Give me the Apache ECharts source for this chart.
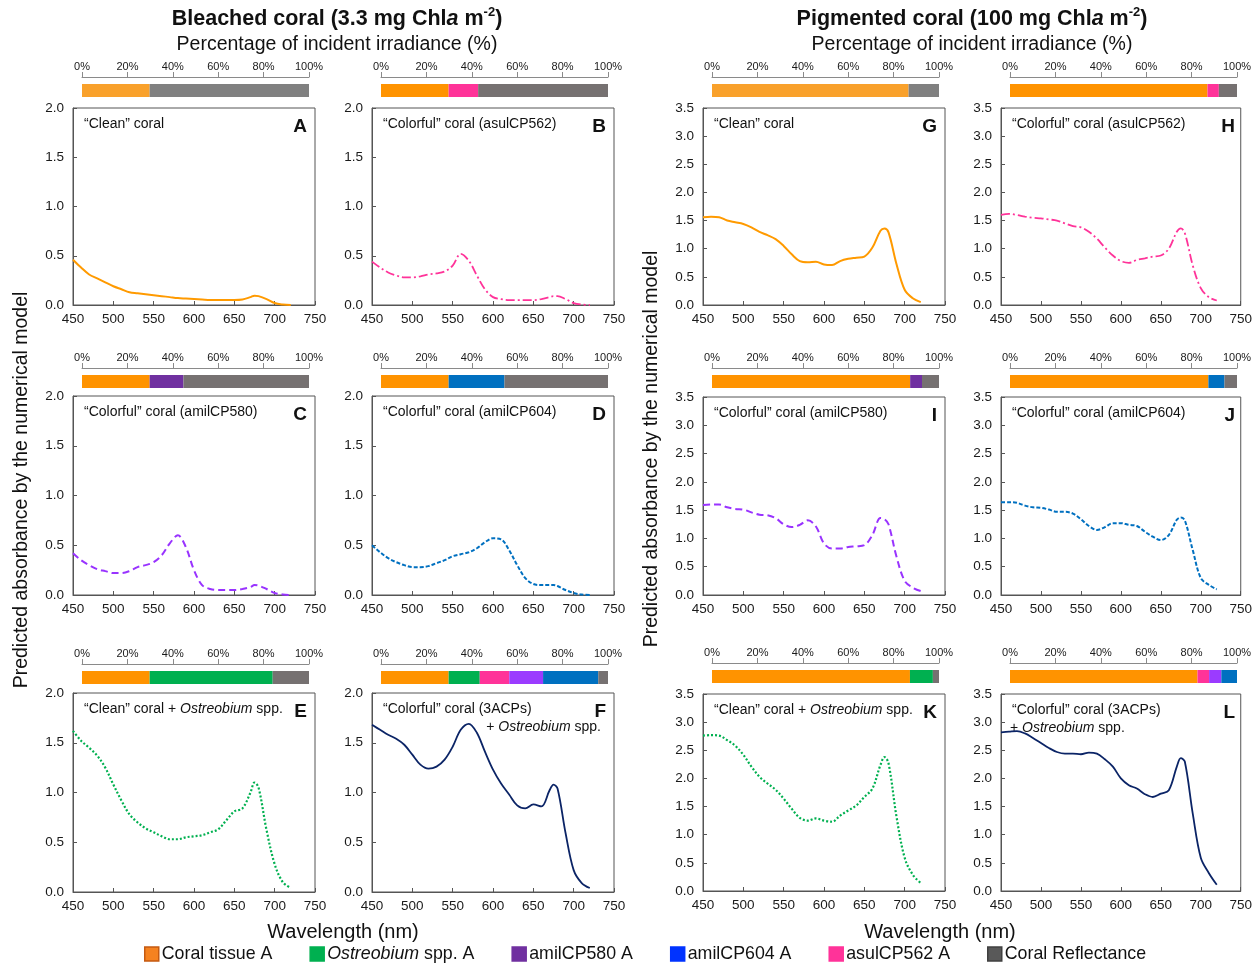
<!DOCTYPE html>
<html><head><meta charset="utf-8">
<script src="https://cdn.jsdelivr.net/npm/echarts@6/dist/echarts.min.js"></script>
<style>html,body{margin:0;padding:0;background:#fff}#c{width:1255px;height:966px}</style>
</head><body><div id="c"></div>
<script>
// ---------- DATA ----------
const wavelength = [450,460,470,480,490,500,510,520,530,540,550,560,570,580,590,600,610,620,630,640,650,660,670,675,680,690,700,710,720];
// Bleached coral (3.3 mg Chla m-2)
const absA = [0.46,0.38,0.31,0.27,0.23,0.19,0.16,0.13,0.12,0.11,0.10,0.09,0.08,0.07,0.065,0.06,0.055,0.05,0.05,0.05,0.05,0.055,0.08,0.095,0.09,0.06,0.02,0.005,0.0];
const absB = [0.44,0.38,0.33,0.30,0.28,0.28,0.29,0.31,0.32,0.34,0.40,0.52,0.45,0.30,0.16,0.08,0.06,0.05,0.05,0.05,0.05,0.06,0.08,0.09,0.09,0.06,0.02,0.005,0.0];
const absC = [0.42,0.35,0.30,0.26,0.24,0.22,0.22,0.24,0.28,0.30,0.33,0.40,0.52,0.60,0.48,0.25,0.10,0.06,0.05,0.05,0.05,0.06,0.08,0.10,0.095,0.06,0.02,0.005,0.0];
const absD = [0.50,0.43,0.37,0.33,0.30,0.28,0.28,0.29,0.32,0.35,0.39,0.41,0.43,0.47,0.53,0.57,0.56,0.45,0.30,0.17,0.11,0.10,0.10,0.10,0.09,0.05,0.02,0.005,0.0];
const absE = [1.62,1.52,1.45,1.37,1.25,1.08,0.92,0.78,0.70,0.64,0.60,0.56,0.53,0.53,0.55,0.56,0.57,0.60,0.63,0.72,0.81,0.84,1.00,1.10,1.05,0.62,0.28,0.10,0.04];
const absF = [1.68,1.63,1.58,1.54,1.48,1.38,1.28,1.24,1.26,1.33,1.46,1.63,1.69,1.60,1.41,1.23,1.09,0.98,0.87,0.84,0.88,0.86,1.02,1.08,1.04,0.59,0.22,0.09,0.04];
// Pigmented coral (100 mg Chla m-2)
const absG = [1.56,1.57,1.56,1.50,1.47,1.44,1.38,1.30,1.24,1.17,1.05,0.90,0.78,0.76,0.77,0.72,0.71,0.78,0.82,0.84,0.86,1.02,1.32,1.36,1.29,0.72,0.27,0.12,0.05];
const absH = [1.60,1.62,1.60,1.57,1.55,1.54,1.52,1.50,1.45,1.40,1.38,1.30,1.18,1.02,0.88,0.78,0.75,0.80,0.83,0.86,0.88,1.00,1.30,1.36,1.28,0.70,0.30,0.14,0.08];
const absI = [1.59,1.60,1.60,1.55,1.52,1.51,1.46,1.42,1.41,1.36,1.25,1.20,1.24,1.32,1.21,0.91,0.82,0.82,0.85,0.86,0.88,1.06,1.36,1.34,1.25,0.67,0.25,0.13,0.07];
const absJ = [1.64,1.64,1.63,1.58,1.55,1.54,1.51,1.47,1.47,1.44,1.34,1.22,1.15,1.20,1.27,1.27,1.24,1.22,1.12,1.03,0.97,1.06,1.33,1.37,1.32,0.79,0.30,0.18,0.10];
const absK = [2.76,2.77,2.76,2.68,2.58,2.42,2.21,2.03,1.91,1.80,1.64,1.46,1.30,1.25,1.29,1.25,1.23,1.34,1.43,1.52,1.67,1.82,2.24,2.38,2.27,1.31,0.59,0.29,0.14];
const absL = [2.82,2.83,2.84,2.80,2.72,2.63,2.54,2.47,2.44,2.44,2.43,2.46,2.44,2.34,2.21,2.00,1.88,1.82,1.72,1.67,1.73,1.79,2.21,2.36,2.30,1.37,0.59,0.32,0.11];

// Percentage of incident irradiance (%), stack order as drawn
const components = ['Coral tissue A','Ostreobium spp. A','asulCP562 A','amilCP580 A','amilCP604 A','Coral Reflectance'];
const legendOrder = ['Coral tissue A','Ostreobium spp. A','amilCP580 A','amilCP604 A','asulCP562 A','Coral Reflectance'];
const pctA = [29.8,0,0,0,0,70.2];
const pctB = [29.8,0,13.0,0,0,57.2];
const pctC = [29.8,0,0,14.9,0,55.3];
const pctD = [29.8,0,0,0,24.6,45.6];
const pctE = [29.8,54.2,0,0,0,16.0];
const pctF = [29.8,13.7,13.0,14.9,24.3,4.3];
const pctG = [86.6,0,0,0,0,13.4];
const pctH = [87.0,0,5.0,0,0,8.0];
const pctI = [87.3,0,0,5.2,0,7.5];
const pctJ = [87.4,0,0,0,7.1,5.5];
const pctK = [87.2,10.1,0,0,0,2.7];
const pctL = [82.6,0,5.1,5.4,6.9,0];

const panelLetters = ['A','B','C','D','E','F','G','H','I','J','K','L'];
const panelTexts = [
  '{n|“Clean” coral}',
  '{n|“Colorful” coral (asulCP562)}',
  '{n|“Colorful” coral (amilCP580)}',
  '{n|“Colorful” coral (amilCP604)}',
  '{n|“Clean” coral + }{i|Ostreobium}{n| spp.}',
  '{n|“Colorful” coral (3ACPs)}',
  '{n|“Clean” coral}',
  '{n|“Colorful” coral (asulCP562)}',
  '{n|“Colorful” coral (amilCP580)}',
  '{n|“Colorful” coral (amilCP604)}',
  '{n|“Clean” coral + }{i|Ostreobium}{n| spp.}',
  '{n|“Colorful” coral (3ACPs)}'
];
const secondLine = '{n|+ }{i|Ostreobium}{n| spp.}';
const absData = [absA,absB,absC,absD,absE,absF,absG,absH,absI,absJ,absK,absL];
const pctData = [pctA,pctB,pctC,pctD,pctE,pctF,pctG,pctH,pctI,pctJ,pctK,pctL];
const yMaxLeft = 2.0, yMaxRight = 3.5;

// ---------- LAYOUT / STYLE ----------
const FONT = '"Liberation Sans", Arial, Helvetica, sans-serif';
const colLeft = [73, 372, 703, 1001];
const plotW = 242;
const rowTop = [[108,396,693],[108,397,694]];
const rowH = [[197,199,199],[197,198,197]];
const barAxisY = [[77,368,664],[77,368,663]];
const panelPos = [[0,0],[1,0],[0,1],[1,1],[0,2],[1,2],[2,0],[3,0],[2,1],[3,1],[2,2],[3,2]];
const lineKinds = ['tissue','asul','amil580','amil604','ostreo','all','tissue','asul','amil580','amil604','ostreo','all'];
const lineStyles = {
  tissue:{color:'#FF9A00', width:2, type:'solid'},
  asul:{color:'#FF3399', width:1.8, type:[9,3,2,3]},
  amil580:{color:'#9933FF', width:2, type:[7,4]},
  amil604:{color:'#0070C0', width:2, type:[4,2]},
  ostreo:{color:'#00B050', width:2.2, type:[2,2]},
  all:{color:'#0B2466', width:1.8, type:'solid'}
};
const baseBarColors = ['#FF9300','#00B050','#FF3399','#7030A0','#0070C0','#767171'];
function barColor(p, c){
  if ((p === 0 || p === 6) && c === 0) return '#F9A12B';
  if ((p === 0 || p === 6) && c === 5) return '#808080';
  if ((p === 5 || p === 11) && c === 3) return '#9B3BFF';
  return baseBarColors[c];
}
const legendColors = {
  'Coral tissue A':['#F58220','#C55A11'],
  'Ostreobium spp. A':['#00B050','#00B050'],
  'amilCP580 A':['#7030A0','#7030A0'],
  'amilCP604 A':['#0033FF','#0033FF'],
  'asulCP562 A':['#FF3399','#FF3399'],
  'Coral Reflectance':['#595959','#404040']
};

const grids = [], xAxes = [], yAxes = [], series = [], graphics = [];
const axisCol = '#555';
panelPos.forEach(([col,row], p) => {
  const side = col < 2 ? 0 : 1;
  const left = colLeft[col], top = rowTop[side][row], h = rowH[side][row];
  const yMax = side === 0 ? yMaxLeft : yMaxRight;
  // line grid
  grids.push({left: left, top: top, width: plotW, height: h, show: true, borderColor: axisCol, borderWidth: 1, containLabel: false});
  xAxes.push({gridIndex: 2*p, type: 'value', min: 450, max: 750, interval: 50,
    axisLine: {show: true, onZero: false, lineStyle: {color: axisCol}},
    axisTick: {show: true, inside: true, length: 4, lineStyle: {color: axisCol}},
    axisLabel: {fontSize: 13.5, color: '#1a1a1a', margin: 7, fontFamily: FONT},
    splitLine: {show: false}});
  yAxes.push({gridIndex: 2*p, type: 'value', min: 0, max: yMax, interval: 0.5,
    axisLine: {show: true, lineStyle: {color: axisCol}},
    axisTick: {show: true, inside: true, length: 4, lineStyle: {color: axisCol}},
    axisLabel: {fontSize: 13.5, color: '#1a1a1a', margin: 9, fontFamily: FONT, formatter: v => v.toFixed(1)},
    splitLine: {show: false}});
  const ls = lineStyles[lineKinds[p]];
  series.push({type: 'line', xAxisIndex: 2*p, yAxisIndex: 2*p, smooth: 0.35, showSymbol: false, silent: true,
    data: wavelength.map((w,k) => [w, absData[p][k]]),
    lineStyle: {color: ls.color, width: ls.width, type: ls.type}, itemStyle: {color: ls.color}});
  // bar grid
  const bTop = barAxisY[side][row];
  grids.push({left: left + 9, top: bTop, width: plotW - 15, height: 27, show: false});
  xAxes.push({gridIndex: 2*p+1, type: 'value', min: 0, max: 100, interval: 20, position: 'top',
    axisLine: {show: true, lineStyle: {color: '#8a8a8a'}},
    axisTick: {show: true, length: 5, lineStyle: {color: '#8a8a8a'}},
    axisLabel: {formatter: '{value}%', fontSize: 11, color: '#1a1a1a', margin: 5, fontFamily: FONT},
    splitLine: {show: false}});
  yAxes.push({gridIndex: 2*p+1, type: 'category', data: ['irradiance'], show: false});
  components.forEach((name, c) => {
    series.push({type: 'bar', name: name, stack: 'irr' + p, xAxisIndex: 2*p+1, yAxisIndex: 2*p+1,
      barWidth: 13, silent: true, data: [pctData[p][c]], itemStyle: {color: barColor(p, c)}});
  });
  // annotations
  const rich = {n: {fontSize: 14, fontFamily: FONT, fill: '#111'}, i: {fontSize: 14, fontFamily: FONT, fontStyle: 'italic', fill: '#111'}};
  graphics.push({type: 'text', x: left + 11, y: top + 16, silent: true,
    style: {text: panelTexts[p], rich: rich, fontSize: 14, fontFamily: FONT, verticalAlign: 'middle', align: 'left'}});
  if (p === 5) {
    graphics.push({type: 'text', x: left + plotW - 13, y: top + 34, silent: true,
      style: {text: secondLine, rich: rich, fontSize: 14, fontFamily: FONT, verticalAlign: 'middle', align: 'right'}});
  }
  if (p === 11) {
    graphics.push({type: 'text', x: left + 9, y: top + 34, silent: true,
      style: {text: secondLine, rich: rich, fontSize: 14, fontFamily: FONT, verticalAlign: 'middle', align: 'left'}});
  }
  graphics.push({type: 'text', x: left + plotW - 8, y: top + 19, silent: true,
    style: {text: panelLetters[p], fontSize: 19, fontWeight: 'bold', fontFamily: FONT, fill: '#111', align: 'right', verticalAlign: 'middle'}});
});

// titles
const titleRich = {
  b: {fontSize: 21.5, fontWeight: 'bold', fontFamily: FONT, fill: '#111', lineHeight: 26},
  bi: {fontSize: 21.5, fontWeight: 'bold', fontStyle: 'italic', fontFamily: FONT, fill: '#111', lineHeight: 26},
  sup: {fontSize: 13, fontWeight: 'bold', fontFamily: FONT, fill: '#111', verticalAlign: 'top', lineHeight: 15}
};
[[337,'{b|Bleached coral (3.3 mg Chl}{bi|a}{b| m}{sup|-2}{b|)}'],[972,'{b|Pigmented coral (100 mg Chl}{bi|a}{b| m}{sup|-2}{b|)}']].forEach(([cx,t]) => {
  graphics.push({type: 'text', x: cx, y: 19, silent: true, style: {text: t, rich: titleRich, align: 'center', verticalAlign: 'middle'}});
  graphics.push({type: 'text', x: cx, y: 45, silent: true, style: {text: 'Percentage of incident irradiance (%)', fontSize: 19.5, fontFamily: FONT, fill: '#111', align: 'center', verticalAlign: 'middle'}});
});
[[343],[940]].forEach(([cx]) => {
  graphics.push({type: 'text', x: cx, y: 932, silent: true, style: {text: 'Wavelength (nm)', fontSize: 20, fontFamily: FONT, fill: '#111', align: 'center', verticalAlign: 'middle'}});
});
[[22,490],[652,449]].forEach(([x,y]) => {
  graphics.push({type: 'text', x: x, y: y, rotation: Math.PI/2, silent: true, style: {text: 'Predicted absorbance by the numerical model', fontSize: 19.5, fontFamily: FONT, fill: '#111', align: 'center', verticalAlign: 'middle'}});
});

const chart = echarts.init(document.getElementById('c'), null, {renderer: 'canvas'});
chart.setOption({
  animation: false,
  backgroundColor: '#fff',
  grid: grids, xAxis: xAxes, yAxis: yAxes, series: series, graphic: graphics,
  legend: {
    left: 139, top: 940, icon: 'rect', itemWidth: 14, itemHeight: 14, itemGap: 37, selectedMode: false,
    data: legendOrder.map(n => ({name: n, itemStyle: {color: legendColors[n][0], borderColor: legendColors[n][1], borderWidth: 1.5}})),
    formatter: n => n === 'Ostreobium spp. A' ? '{i|Ostreobium}{n| spp. A}' : '{n|' + n + '}',
    textStyle: {fontSize: 17.8, fontFamily: FONT, color: '#111', padding: [0,0,0,-2],
      rich: {n: {fontSize: 17.8, fontFamily: FONT, color: '#111'}, i: {fontSize: 17.8, fontFamily: FONT, fontStyle: 'italic', color: '#111'}}}
  }
});
</script></body></html>
